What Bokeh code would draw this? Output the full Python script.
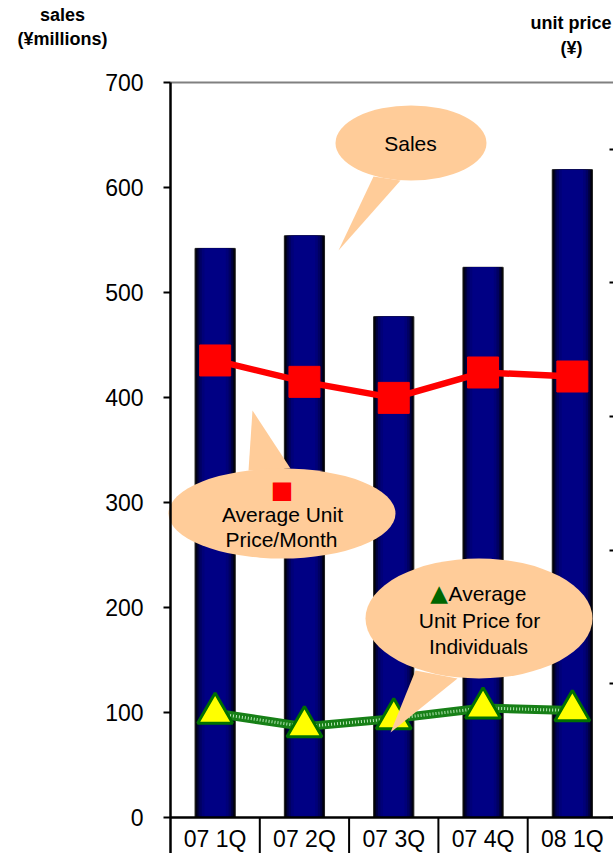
from bokeh.plotting import figure
from bokeh.models import (Range1d, LinearAxis, FixedTicker, Label,
                          CustomJSTickFormatter)
from bokeh.core.properties import value
from bokeh.embed import file_html
from bokeh.resources import INLINE

# ---------------- data ----------------
quarters = ["07 1Q", "07 2Q", "07 3Q", "07 4Q", "08 1Q"]
sales = [542, 554, 477, 524, 617]                 # ¥ millions (left axis)
unit_price_month = [3420, 3260, 3140, 3330, 3300]  # ¥ (right axis)
unit_price_indiv = [780, 680, 740, 820, 800]       # ¥ (right axis)
left_ticks = [0, 100, 200, 300, 400, 500, 600, 700]
right_ticks = [0, 1000, 2000, 3000, 4000, 5000]

# ---------------- geometry ----------------
W, H = 613, 853
PX_LEFT = 170.0        # pixel of the plot area's left edge
PX_CAT = 89.3          # pixels per category
PX_ZERO = 817.0        # pixel of y = 0
PX_UNIT = 1.05         # pixels per ¥ million
Y_MAX = 700
P_MAX = 5500
P_SCALE = P_MAX / Y_MAX

X_L = -PX_LEFT / PX_CAT
X_R = (W - PX_LEFT) / PX_CAT
Y_TOP = PX_ZERO / PX_UNIT
Y_MIN = -(H - PX_ZERO) / PX_UNIT

def sxd(px):
    return (px - PX_LEFT) / PX_CAT
def syd(py):
    return (PX_ZERO - py) / PX_UNIT

xs = [i + 0.5 for i in range(len(quarters))]

p = figure(width=W, height=H, output_backend="svg", toolbar_location=None,
           x_range=Range1d(X_L, X_R), y_range=Range1d(Y_MIN, Y_TOP),
           x_axis_location=None, y_axis_location=None, min_border=0,
           background_fill_color="white", border_fill_color="white")
p.extra_y_ranges = {"price": Range1d(Y_MIN * P_SCALE, Y_TOP * P_SCALE)}
p.outline_line_color = None
p.grid.visible = False

# left axis, drawn at the plot area's left edge
ya = LinearAxis(fixed_location=0, bounds=(Y_MIN, Y_MAX),
                ticker=FixedTicker(ticks=left_ticks))
ya.axis_line_color = "black"
ya.axis_line_width = 2.5
ya.major_tick_line_width = 2
ya.major_tick_out = 7
ya.major_tick_in = 0
ya.minor_tick_line_color = None
ya.major_label_standoff = 20
ya.major_label_text_font = "Liberation Sans"
ya.major_label_text_font_size = "23px"
ya.major_label_text_color = "black"
p.add_layout(ya, "left")

# right axis (its line and labels lie just beyond the picture)
ra = LinearAxis(y_range_name="price", fixed_location=sxd(616),
                bounds=(0, P_MAX), ticker=FixedTicker(ticks=right_ticks),
                formatter=CustomJSTickFormatter(code="return ''"))
ra.axis_line_color = "black"
ra.axis_line_width = 2
ra.major_tick_in = 7
ra.major_tick_out = 0
ra.major_tick_line_width = 2
ra.minor_tick_line_color = None
ra.major_label_standoff = 0
ra.major_label_text_font_size = "1px"
p.add_layout(ra, "right")

# ---------------- bars (gradient imitation) ----------------
layers = [(0.45, "#000000"), (0.425, "#00001c"), (0.395, "#000040"),
          (0.355, "#000062"), (0.30, "#000078"), (0.24, "#000084")]
for i, (w, c) in enumerate(layers):
    p.vbar(x=xs, top=sales, bottom=0, width=w, fill_color=c,
           line_color="#202020" if i == 0 else None, line_width=1)

# ---------------- lines ----------------
p.line(xs, unit_price_month, y_range_name="price", line_color="#ff0000",
       line_width=6.5)
p.scatter(xs, unit_price_month, y_range_name="price", marker="square",
          size=31, fill_color="#ff0000", line_color="#ff0000")

p.line(xs, unit_price_indiv, y_range_name="price", line_color="#178017",
       line_width=9)
p.line(xs, unit_price_indiv, y_range_name="price", line_color="#b8e8b8",
       line_width=3, line_dash="1 2")
p.scatter(xs, unit_price_indiv, y_range_name="price", marker="triangle",
          size=35, fill_color="#ffff00", line_color="#007000", line_width=3)

# ---------------- frame lines and category boxes ----------------
p.segment(x0=[0], y0=[Y_MAX], x1=[X_R], y1=[Y_MAX], line_color="#808080",
          line_width=2)
p.segment(x0=[0], y0=[0], x1=[X_R], y1=[0], line_color="black",
          line_width=2.5)
seps = list(range(1, len(quarters)))
p.segment(x0=seps, y0=[Y_MIN] * len(seps), x1=seps, y1=[0] * len(seps),
          line_color="black", line_width=2)
p.text(x=xs, y=[syd(838)] * len(quarters), text=quarters,
       text_align="center", text_baseline="middle",
       text_font=value("Liberation Sans"), text_font_size="23px",
       text_color="black")

# ---------------- callouts ----------------
PEACH = "#ffcc99"
tails = [
    ([373, 400, 338], [176, 180, 250]),
    ([248, 290, 252], [470, 468, 410]),
    ([415, 457, 390], [670, 678, 732]),
]
for txs, tys in tails:
    p.patch([sxd(v) for v in txs], [syd(v) for v in tys], fill_color=PEACH,
            line_color=None)
ells = [(410.5, 142.5, 151, 75), (281.5, 513, 227, 90), (478.5, 618, 227, 120)]
for cx, cy, ew, eh in ells:
    p.ellipse(x=[sxd(cx)], y=[syd(cy)], width=ew, height=eh,
              width_units="screen", height_units="screen",
              fill_color=PEACH, line_color=None)

def lab(px, py, text, size="21px", align="center", color="black",
        font="Liberation Sans", style="normal"):
    p.add_layout(Label(x=sxd(px), y=syd(py), text=text, text_align=align,
                       text_baseline="middle", text_font=font,
                       text_font_size=size, text_color=color,
                       text_font_style=style))

lab(410, 143, "Sales")
lab(281.5, 489.5, "■", size="24px", color="#ff0000", font="DejaVu Sans")
lab(282, 514, "Average Unit")
lab(281, 539, "Price/Month")
lab(438.5, 592, "▲", size="23px", color="#006600", font="DejaVu Sans")
lab(448, 593, "Average", align="left")
lab(479, 620, "Unit Price for")
lab(478, 646, "Individuals")

# axis titles
lab(62, 14, "sales", size="18px", style="bold")
lab(62, 38, "(¥millions)", size="18px", style="bold")
lab(611, 22, "unit price", size="18px", style="bold", align="right")
lab(571, 47, "(¥)", size="18px", style="bold")

open("out.html", "w").write(file_html(p, INLINE))
